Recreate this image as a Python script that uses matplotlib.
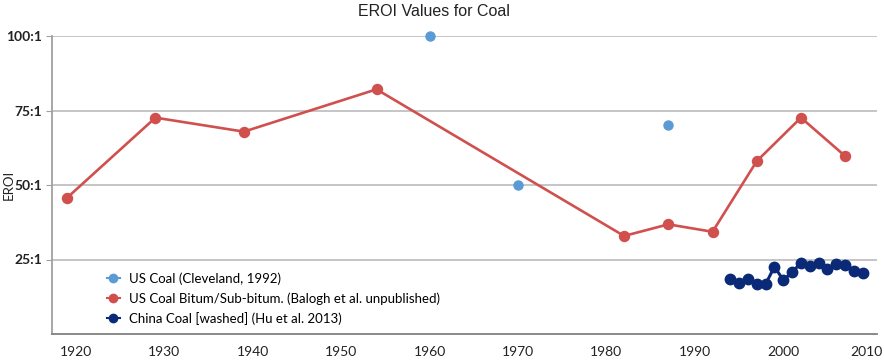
import matplotlib
matplotlib.use("Agg")
import matplotlib.pyplot as plt
from matplotlib.transforms import ScaledTranslation

# Data
cleveland_years = [1960, 1970, 1987]
cleveland_eroi = [100, 50, 70]

balogh_years = [1919, 1929, 1939, 1954, 1982, 1987, 1992, 1997, 2002, 2007]
balogh_eroi = [45.7, 72.6, 67.9, 82.1, 32.9, 36.8, 34.3, 58.0, 72.6, 59.7]

china_years = [1994, 1995, 1996, 1997, 1998, 1999, 2000, 2001, 2002, 2003,
               2004, 2005, 2006, 2007, 2008, 2009]
china_eroi = [18.4, 17.2, 18.4, 16.7, 16.7, 22.6, 18.1, 20.7, 23.9, 22.8,
              23.7, 21.8, 23.5, 23.2, 21.2, 20.6]

x_ticks = [1920, 1930, 1940, 1950, 1960, 1970, 1980, 1990, 2000, 2010]
y_ticks = [25, 50, 75, 100]
y_tick_labels = ["25:1", "50:1", "75:1", "100:1"]

series_labels = ["US Coal (Cleveland, 1992)",
                 "US Coal Bitum/Sub-bitum. (Balogh et al. unpublished)",
                 "China Coal [washed] (Hu et al. 2013)"]

c_blue = "#5B9BD5"
c_red = "#D0504D"
c_navy = "#0A2A78"
c_grid = "#C0C0C0"
c_axis = "#A0A0A0"

plt.rcParams['font.family'] = ['Lato', 'DejaVu Sans']

fig = plt.figure(figsize=(8.84, 3.61), dpi=100)
ax = fig.add_axes([52/884, 1-334/361, (877-52)/884, (334-36)/361])

ax.plot(cleveland_years, cleveland_eroi, linestyle='none', marker='o',
        markersize=6.5, color=c_blue, label=series_labels[0], zorder=3)
ax.plot(balogh_years, balogh_eroi, linestyle='-', linewidth=1.9, marker='o',
        markersize=7.2, color=c_red, label=series_labels[1], zorder=3)
ax.plot(china_years, china_eroi, linestyle='-', linewidth=2.2, marker='o',
        markersize=7.5, color=c_navy, label=series_labels[2], zorder=4)

ax.set_xlim(1917.3, 2010.6)
ax.set_ylim(0, 100)
ax.set_xticks(x_ticks)
ax.set_yticks(y_ticks)
ax.set_yticklabels(y_tick_labels)
ax.yaxis.grid(True, color=c_grid, linewidth=1.3)
ax.set_axisbelow(True)

for s in ['top', 'right']:
    ax.spines[s].set_visible(False)
ax.spines['left'].set_color(c_axis)
ax.spines['left'].set_linewidth(1.3)
ax.spines['bottom'].set_color('#808080')
ax.spines['bottom'].set_linewidth(1.3)

ax.tick_params(axis='x', length=0, pad=9, labelsize=10, labelcolor='#222222')
ax.tick_params(axis='y', length=4, color=c_axis, pad=3, labelsize=10,
               labelcolor='#222222')
for lbl in ax.get_yticklabels():
    lbl.set_fontweight('bold')

# nudge the last x tick label left so it stays inside the figure
xlabels = ax.get_xticklabels()
xlabels[-1].set_transform(xlabels[-1].get_transform() +
                          ScaledTranslation(-5/100, 0, fig.dpi_scale_trans))

ax.set_ylabel("EROI", fontsize=9.5, color='#222222')
ax.yaxis.set_label_coords(-0.045, 0.5)

for line in ax.get_lines():
    line.set_clip_on(False)

leg = ax.legend(loc='lower left', bbox_to_anchor=(0.055, 0.0), frameon=False,
                fontsize=9.5, handlelength=1.0, handletextpad=0.7,
                labelspacing=0.55, borderaxespad=0.3)
for h in leg.legend_handles:
    h.set_markersize(6)
    h.set_linewidth(1.5)
    h.set_linestyle('-')

fig.text(434/884, 1-12/361, "EROI Values for Coal", ha='center', va='center',
         fontsize=11.5, family=['Liberation Sans', 'DejaVu Sans'],
         color='#222222')

fig.savefig("out.png", dpi=100)
